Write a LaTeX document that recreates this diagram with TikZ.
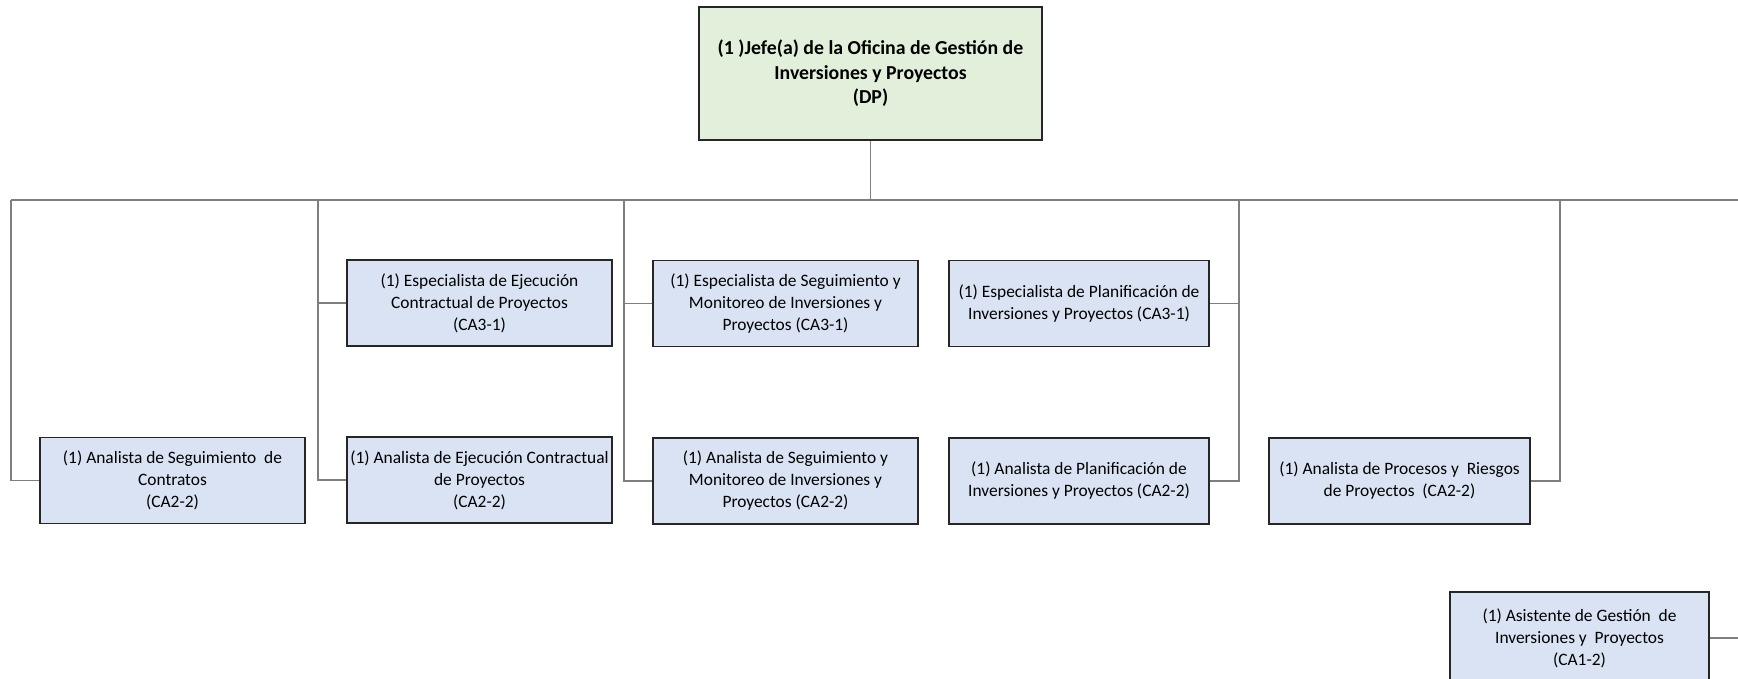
\documentclass[tikz,border=0pt]{standalone}
\usepackage{fontspec}
\setmainfont{Carlito}
\definecolor{boxblue}{HTML}{DAE3F3}
\definecolor{boxgreen}{HTML}{E2EFDA}
\definecolor{linegray}{HTML}{7F7F7F}
\definecolor{edgedark}{HTML}{262626}
\begin{document}
\begin{tikzpicture}[x=1pt,y=-1pt,
  unit/.style={draw=edgedark,line width=1.6pt,fill=boxblue,align=center,inner sep=0pt,
    minimum width=265pt,minimum height=86pt,font=\fontsize{17.4}{22}\selectfont},
  head/.style={draw=edgedark,line width=1.6pt,fill=boxgreen,align=center,inner sep=0pt,
    minimum width=343pt,minimum height=133pt,font=\bfseries\fontsize{19.8}{24.5}\selectfont},
  link/.style={draw=linegray,line width=1.4pt}]
\useasboundingbox (0,0) rectangle (1738,678);
\clip (0,0) rectangle (1738,678);
\fill[white] (0,0) rectangle (1738,678);

\node[head] (top) at (870.5,73.5) {(1 )Jefe(a) de la Oficina de Gestión de\\Inversiones y Proyectos\\(DP)};

\node[unit] (a1) at (172.5,480.5) {(1) Analista de Seguimiento\ \ de\\Contratos\\(CA2-2)};
\node[unit] (e1) at (479.5,303) {(1) Especialista de Ejecución\\Contractual de Proyectos\\(CA3-1)};
\node[unit] (a2) at (479.5,480) {(1) Analista de Ejecución Contractual\\de Proyectos\\(CA2-2)};
\node[unit] (e2) at (785.5,303.5) {(1) Especialista de Seguimiento y\\Monitoreo de Inversiones y\\Proyectos (CA3-1)};
\node[unit] (a3) at (785.5,481) {(1) Analista de Seguimiento y\\Monitoreo de Inversiones y\\Proyectos (CA2-2)};
\node[unit,minimum width=260pt] (e3) at (1079,303.5) {(1) Especialista de Planificación de\\Inversiones y Proyectos (CA3-1)};
\node[unit,minimum width=260pt] (a4) at (1079,481) {(1) Analista de Planificación de\\Inversiones y Proyectos (CA2-2)};
\node[unit,minimum width=261pt] (a5) at (1399.5,481) {(1) Analista de Procesos y\ \ Riesgos\\de Proyectos\ \ (CA2-2)};
\node[unit,minimum width=259pt,minimum height=92pt] (a6) at (1579.5,638) {(1) Asistente de Gestión\ \ de\\Inversiones y\ \ Proyectos\\(CA1-2)};

\coordinate (c1) at (11,200);
\coordinate (c2) at (318,200);
\coordinate (c3) at (624,200);
\coordinate (c4) at (1239,200);
\coordinate (c5) at (1560,200);
\coordinate (busR) at (1738,200);
\coordinate (edgeR) at (1738,638);

\draw[link] (top.south) -- (top.south |- c1);
\draw[link] (c1) -- (busR);
\draw[link] (c1) |- (a1.west);
\draw[link] (c2) |- (a2.west);
\draw[link] (c2 |- e1.west) -- (e1.west);
\draw[link] (c3) |- (a3.west);
\draw[link] (c3 |- e2.west) -- (e2.west);
\draw[link] (c4) |- (a4.east);
\draw[link] (c4 |- e3.east) -- (e3.east);
\draw[link] (c5) |- (a5.east);
\draw[link] (a6.east) -- (edgeR);
\end{tikzpicture}
\end{document}
